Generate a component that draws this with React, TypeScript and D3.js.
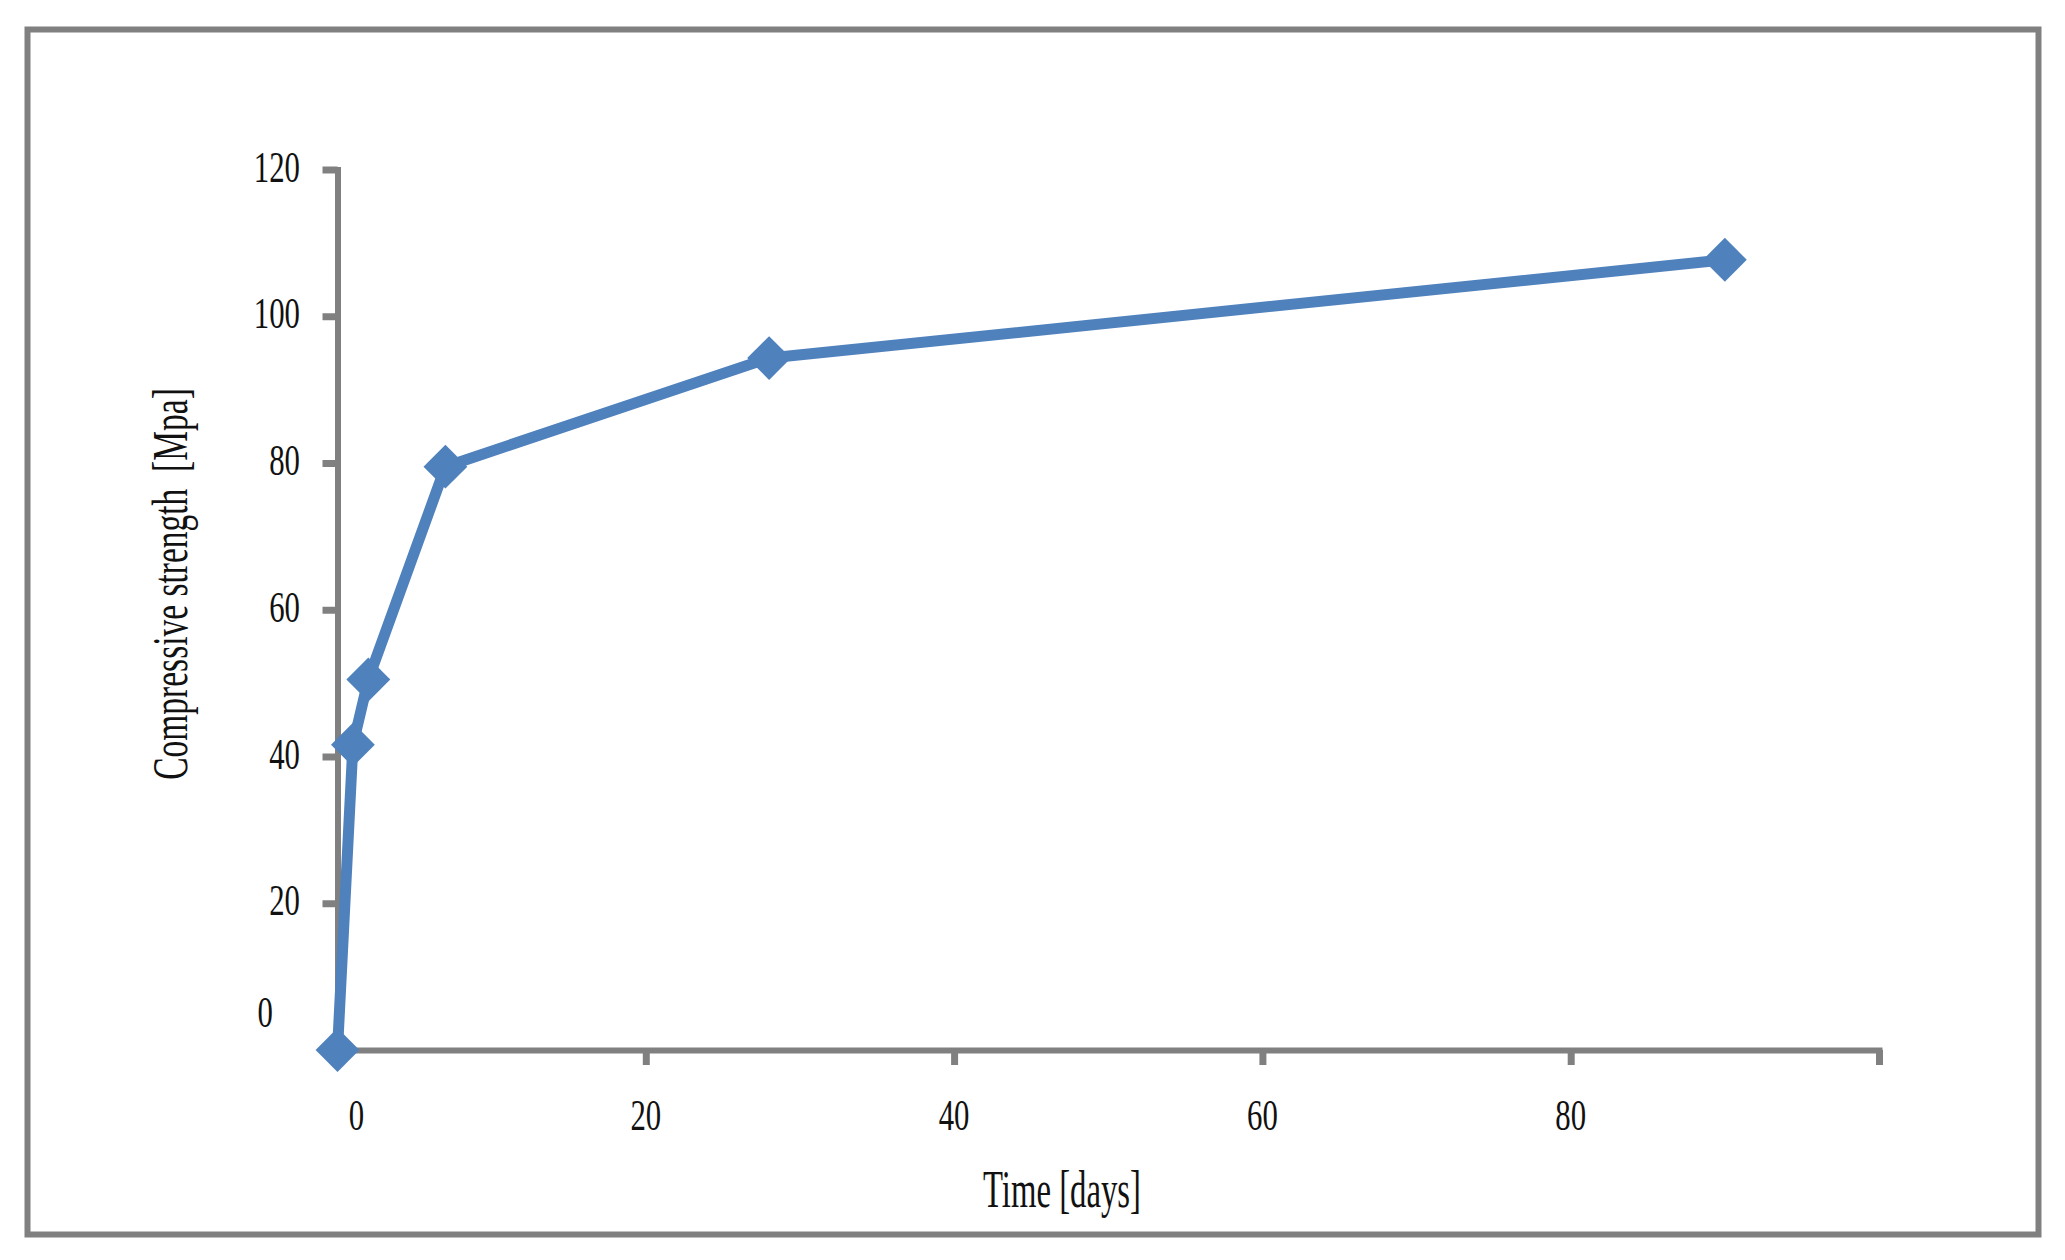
import * as d3 from "d3"
import React, { useEffect, useRef } from "react"

// curing time (days) and measured compressive strength (MPa)
const days = [0, 1, 2, 7, 28, 90]
const strength = [0, 41.6, 50.5, 79.5, 94.3, 107.7]

const xTicks = [0, 20, 40, 60, 80, 100]
const xTickLabels = ["0", "20", "40", "60", "80", ""]
const yTicks = [0, 20, 40, 60, 80, 100, 120]
const yTickLabels = ["0", "20", "40", "60", "80", "100", "120"]

const xTitle = "Time [days]"
const yTitle = "Compressive strength  [Mpa]"

const W = 2065
const H = 1260
const BLUE = "#4f81bd"
const GREY = "#808080"
const FONT = "Liberation Serif, DejaVu Serif, serif"

const Chart = () => {
  const ref = useRef(null)

  useEffect(() => {
    const svg = d3.select(ref.current)
    svg.selectAll("*").remove()

    // outer frame
    svg
      .append("rect")
      .attr("x", 27.5)
      .attr("y", 29.5)
      .attr("width", 2011)
      .attr("height", 1205)
      .attr("fill", "#fff")
      .attr("stroke", GREY)
      .attr("stroke-width", 6)

    const x = d3.scaleLinear().domain([0, 100]).range([337.5, 1879])
    const y = d3.scaleLinear().domain([0, 120]).range([1050, 169.5])

    // axes (lines only, labels drawn below)
    const gx = svg
      .append("g")
      .attr("transform", "translate(0,1050)")
      .call(d3.axisBottom(x).tickValues(xTicks).tickSize(15).tickSizeOuter(0).tickFormat(() => ""))
    const gy = svg
      .append("g")
      .attr("transform", "translate(337.5,0)")
      .call(d3.axisLeft(y).tickValues(yTicks).tickSize(15).tickSizeOuter(0).tickFormat(() => ""))
    ;[gx, gy].forEach((g) => {
      g.select(".domain").attr("stroke", GREY).attr("stroke-width", 6).attr("stroke-linecap", "square")
      g.selectAll(".tick line").attr("stroke", GREY).attr("stroke-width", 7)
    })

    // y tick labels
    svg
      .append("g")
      .selectAll("text")
      .data(yTicks)
      .join("text")
      .attr("transform", (d) =>
        d === 0
          ? "translate(273," + (y(d) - 23) + ") scale(0.7,1)"
          : "translate(300," + (y(d) + 12) + ") scale(0.7,1)"
      )
      .attr("text-anchor", "end")
      .attr("font-family", FONT)
      .attr("font-size", 44)
      .attr("fill", "#111")
      .text((d, i) => yTickLabels[i])

    // x tick labels
    svg
      .append("g")
      .selectAll("text")
      .data(xTicks)
      .join("text")
      .attr("transform", (d) => "translate(" + (x(d) + (d === 0 ? 19 : 0)) + ",1130) scale(0.7,1)")
      .attr("text-anchor", "middle")
      .attr("font-family", FONT)
      .attr("font-size", 44)
      .attr("fill", "#111")
      .text((d, i) => xTickLabels[i])

    // axis titles
    svg
      .append("text")
      .attr("transform", "translate(1062,1207) scale(0.63,1)")
      .attr("text-anchor", "middle")
      .attr("font-family", FONT)
      .attr("font-size", 52)
      .attr("fill", "#111")
      .text(xTitle)
    svg
      .append("text")
      .attr("transform", "translate(187,584) rotate(-90) scale(0.67,1)")
      .attr("text-anchor", "middle")
      .attr("font-family", FONT)
      .attr("font-size", 50)
      .attr("fill", "#111")
      .style("white-space", "pre")
      .text(yTitle)

    // series line
    const pts = days.map((d, i) => [d, strength[i]])
    svg
      .append("path")
      .datum(pts)
      .attr("fill", "none")
      .attr("stroke", BLUE)
      .attr("stroke-width", 11)
      .attr("stroke-linejoin", "round")
      .attr(
        "d",
        d3
          .line()
          .x((d) => x(d[0]))
          .y((d) => y(d[1]))
      )

    // diamond markers
    svg
      .append("g")
      .selectAll("path")
      .data(pts)
      .join("path")
      .attr("transform", (d) => "translate(" + x(d[0]) + "," + y(d[1]) + ") rotate(45)")
      .attr("d", d3.symbol(d3.symbolSquare, 31 * 31)())
      .attr("fill", BLUE)
  }, [])

  return (
    <svg
      ref={ref}
      width={W}
      height={H}
      viewBox={`0 0 ${W} ${H}`}
      style={{ position: "absolute", left: 0, top: 0, background: "#fff" }}
    />
  )
}

export default function App() {
  return <Chart />
}
